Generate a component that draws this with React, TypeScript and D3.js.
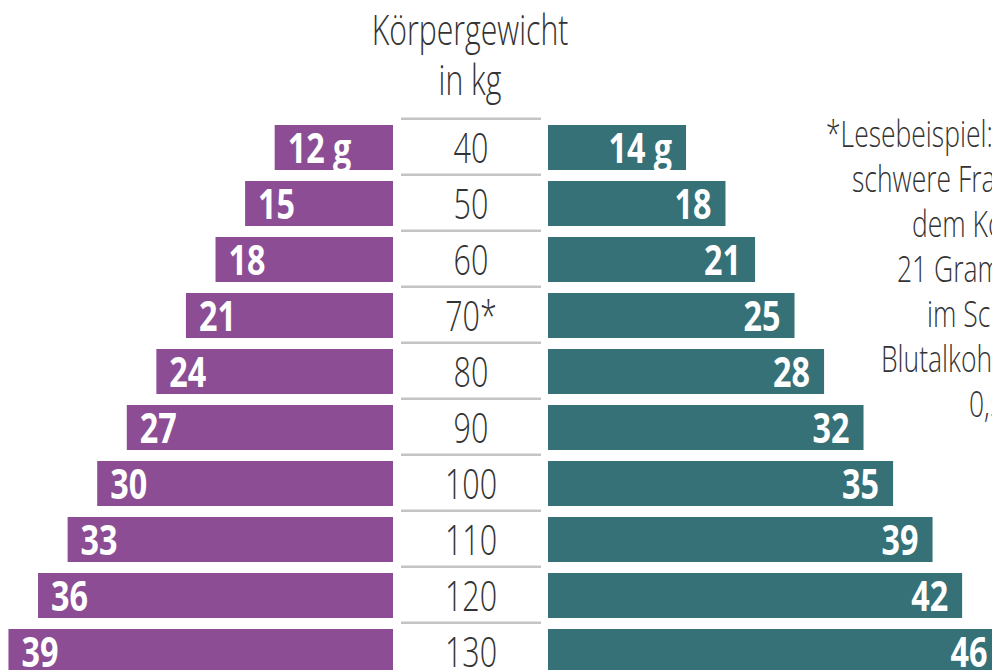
import React from "react";
import * as d3 from "d3";

const weights = ["40", "50", "60", "70*", "80", "90", "100", "110", "120", "130"];
const womenGrams = [12, 15, 18, 21, 24, 27, 30, 33, 36, 39];
const menGrams = [14, 18, 21, 25, 28, 32, 35, 39, 42, 46];
const titleLines = ["Körpergewicht", "in kg"];
const noteLines = [
  "*Lesebeispiel: Eine 70 Kilogramm",
  "schwere Frau erreicht nach",
  "dem Konsum von",
  "21 Gramm Alkohol",
  "im Schnitt einen",
  "Blutalkoholgehalt von",
  "0,5 Promille.",
];
const noteStarts = [826, 852, 912, 897, 927, 881, 969];

const W = 992;
const H = 670;
const PURPLE = "#8c4d94";
const TEAL = "#357177";
const FONT = "'Open Sans', sans-serif";
const CONDENSE_LIGHT = 0.71;
const CONDENSE_BOLD = 0.77;

function CText({ x, y, sx, anchor, size, weight, fill, children }: any) {
  return (
    <g transform={`translate(${x},${y}) scale(${sx},1)`}>
      <text
        x={0}
        y={0}
        textAnchor={anchor}
        fontFamily={FONT}
        fontSize={size}
        fontWeight={weight}
        fill={fill}
      >
        {children}
      </text>
    </g>
  );
}

export default function App() {
  const rowTop0 = 125;
  const step = 56;
  const barH = 45;
  const pad = (step - barH) / step;
  const y = d3
    .scaleBand<string>()
    .domain(weights)
    .range([rowTop0, rowTop0 + step * (weights.length - pad)])
    .paddingInner(pad)
    .paddingOuter(0)
    .align(0);
  const pxPerGram = 9.86;
  const x = d3.scaleLinear().domain([0, 10]).range([0, 10 * pxPerGram]);

  const leftEdge = 393;
  const rightEdge = 548;
  const centerX = 471;
  const lineX0 = 401;
  const lineX1 = 541;

  return (
    <svg
      width={W}
      height={H}
      style={{ position: "absolute", left: 0, top: 0, background: "#fff" }}
    >
      {titleLines.map((t, i) => (
        <CText
          key={t}
          x={centerX - 1}
          y={45 + i * 50}
          sx={0.72}
          anchor="middle"
          size={42}
          weight={300}
          fill="#333"
        >
          {t}
        </CText>
      ))}

      {weights.map((w, i) => {
        const top = y(w)!;
        const bh = y.bandwidth();
        const cy = top + bh / 2;
        const wl = x(womenGrams[i]);
        const wr = x(menGrams[i]);
        const suffix = i === 0 ? " g" : "";
        return (
          <g key={w}>
            <rect x={lineX0} y={top - 7.5} width={lineX1 - lineX0} height={2.5} fill="#c4c4c4" />
            <rect x={leftEdge - wl} y={top} width={wl} height={bh} fill={PURPLE} />
            <rect x={rightEdge} y={top} width={wr} height={bh} fill={TEAL} />
            <CText
              x={leftEdge - wl + 13}
              y={cy + 15}
              sx={CONDENSE_BOLD}
              anchor="start"
              size={42}
              weight={700}
              fill="#fff"
            >
              {womenGrams[i] + suffix}
            </CText>
            <CText
              x={rightEdge + wr - 14}
              y={cy + 15}
              sx={CONDENSE_BOLD}
              anchor="end"
              size={42}
              weight={700}
              fill="#fff"
            >
              {menGrams[i] + suffix}
            </CText>
            <CText
              x={centerX}
              y={cy + 15.5}
              sx={CONDENSE_LIGHT}
              anchor="middle"
              size={43}
              weight={300}
              fill="#333"
            >
              {w}
            </CText>
          </g>
        );
      })}

      {noteLines.map((t, i) => (
        <CText
          key={t}
          x={noteStarts[i]}
          y={146.7 + i * 45}
          sx={0.716}
          anchor="start"
          size={37}
          weight={300}
          fill="#333"
        >
          {t}
        </CText>
      ))}
    </svg>
  );
}
